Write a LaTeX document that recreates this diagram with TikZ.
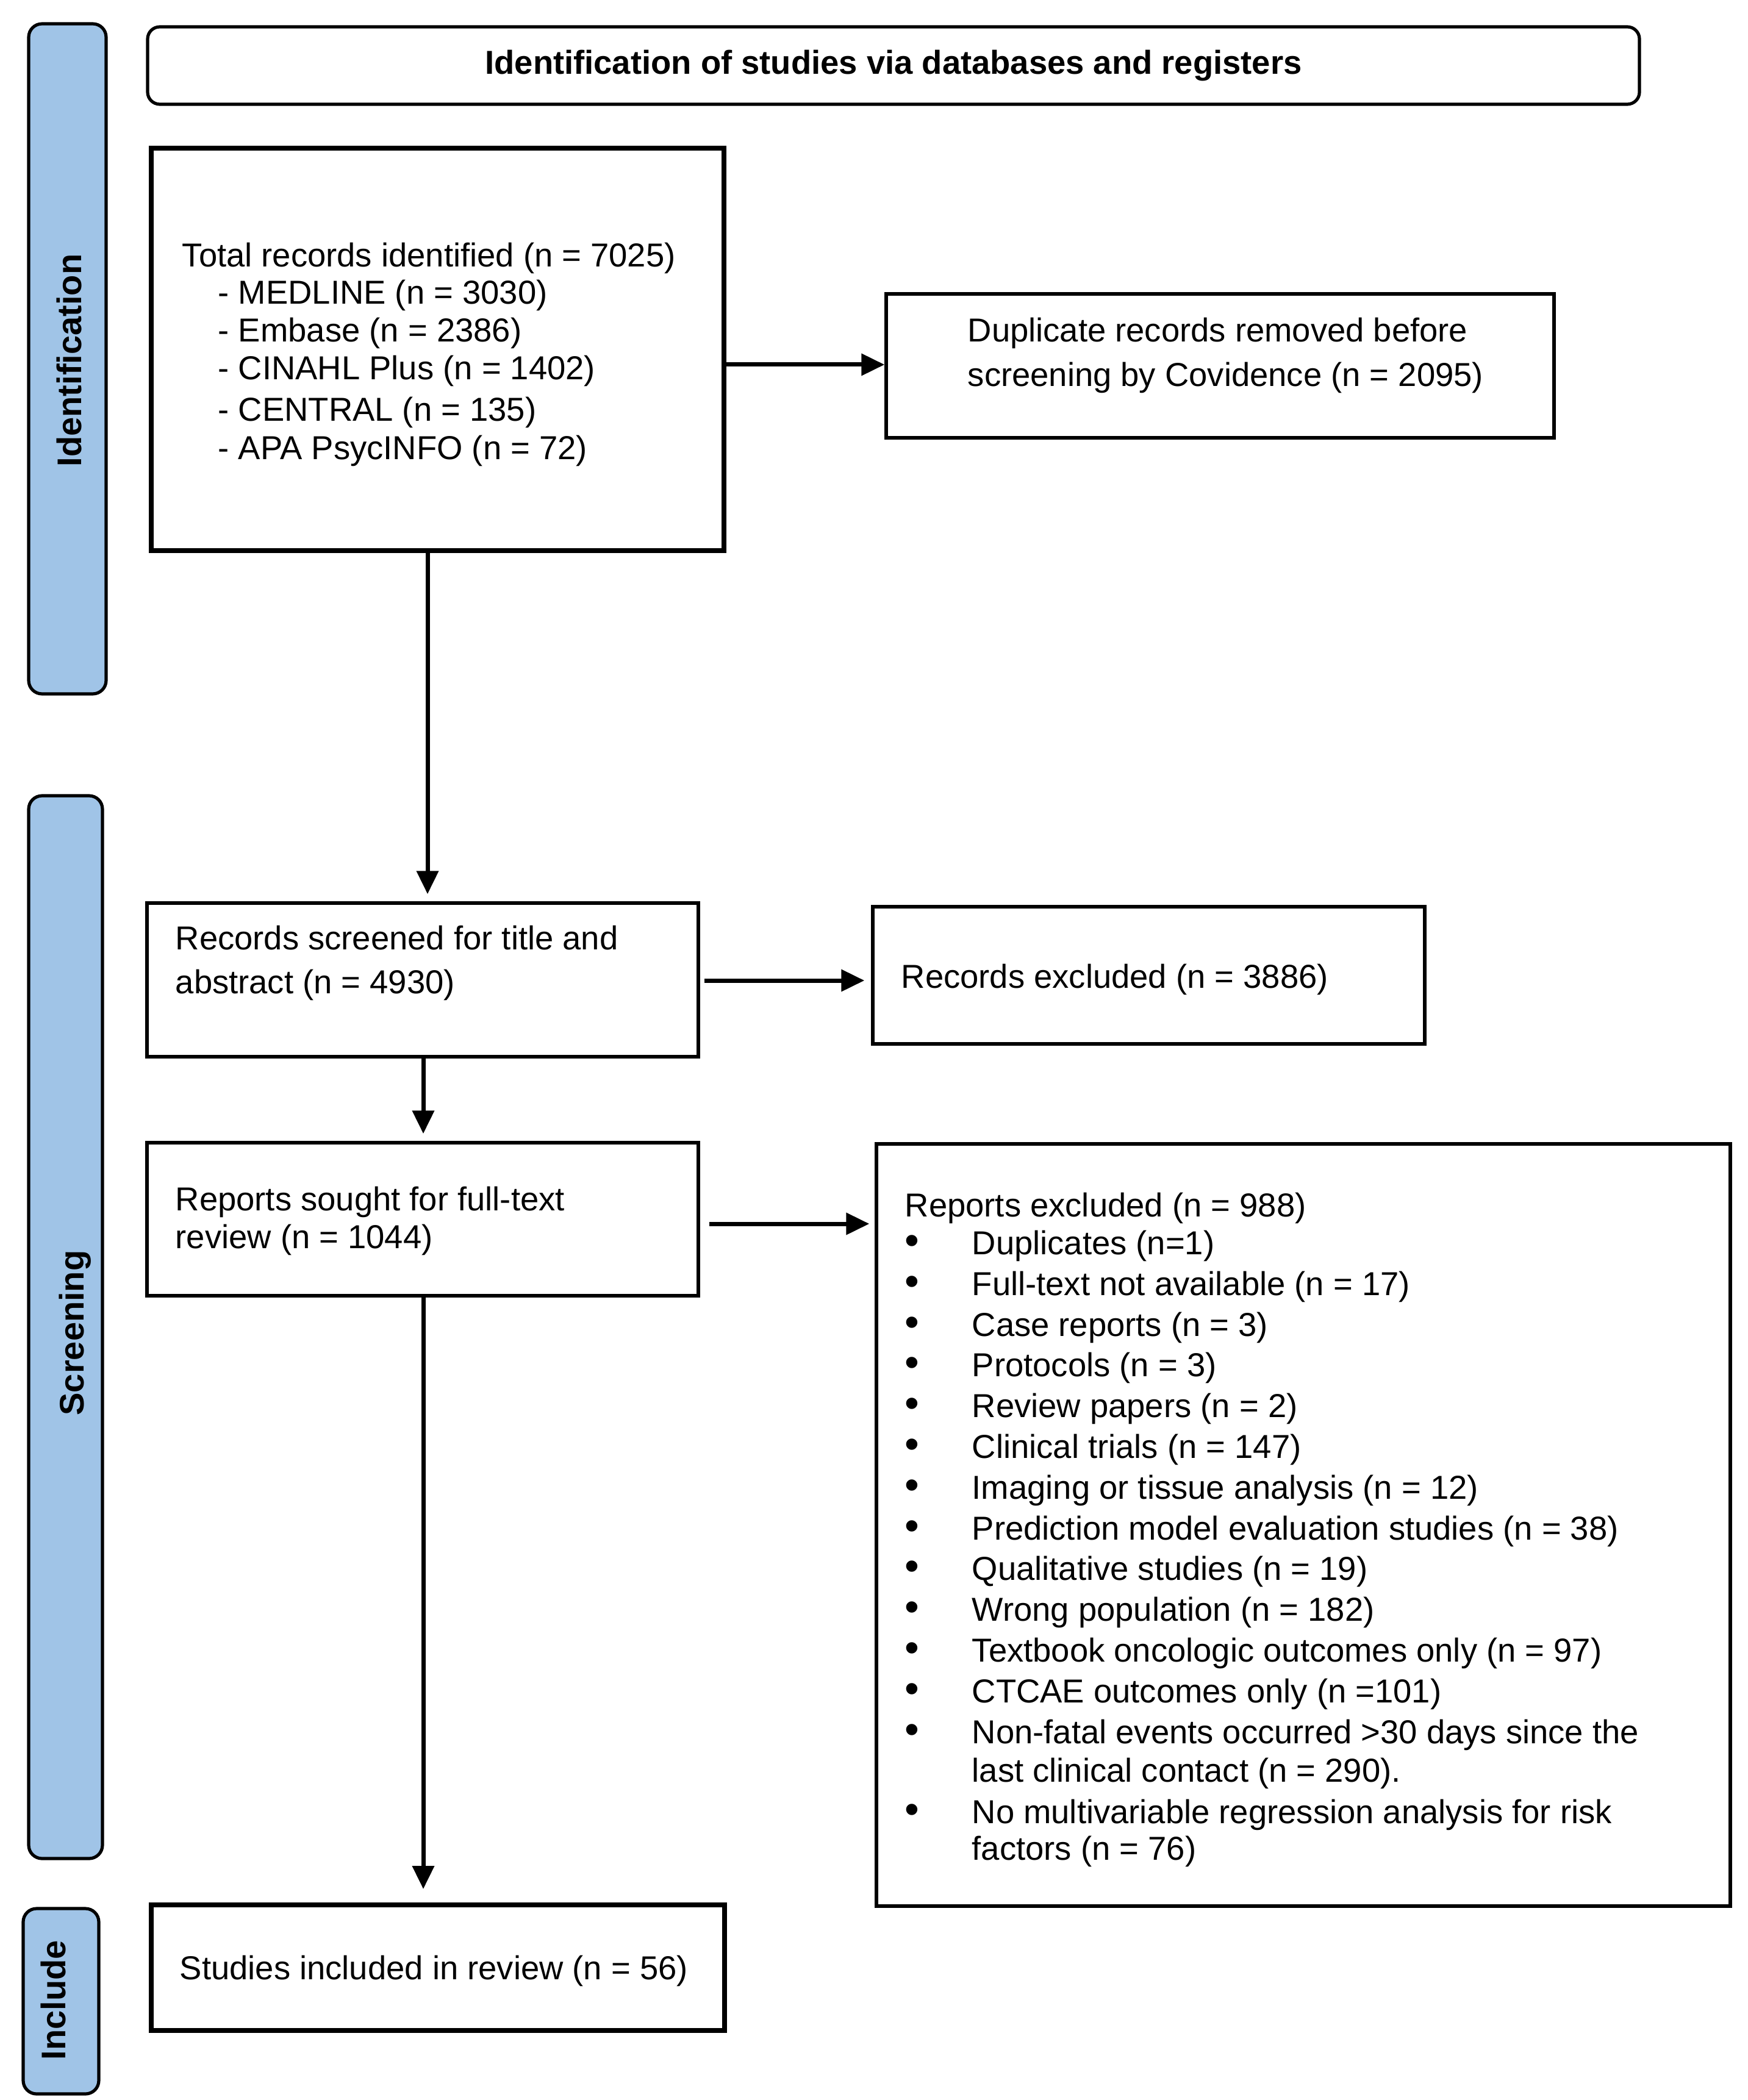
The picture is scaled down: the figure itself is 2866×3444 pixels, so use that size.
\documentclass[tikz,border=0pt]{standalone}
\usepackage{fontspec}
\setmainfont{Liberation Sans}
\usetikzlibrary{arrows.meta,fit}
\definecolor{laneblue}{RGB}{160,196,231}
\begin{document}
\begin{tikzpicture}[x=0.25pt,y=-0.25pt,
  box/.style={draw=black, line width=1.35pt, inner sep=0pt},
  thickbox/.style={box, line width=2pt},
  titlebox/.style={box, line width=1.3pt, rounded corners=5pt},
  lane/.style={draw=black, line width=1.3pt, fill=laneblue, rounded corners=5.5pt, inner sep=0pt},
  lanelabel/.style={rotate=90, anchor=base, inner sep=0pt, font=\fontsize{14}{16}\selectfont\bfseries},
  txt/.style={anchor=base west, inner sep=0pt, font=\fontsize{13.6}{16}\selectfont},
  bul/.style={anchor=base, inner sep=0pt, font=\fontsize{17}{16}\selectfont},
  arr/.style={line width=1.75pt, -{Triangle[length=9.5pt,width=8.75pt]}},
]
\useasboundingbox[fill=white] (0,0) rectangle (2866,3444);

% lanes
\node[lane, fit={(47,39) (174,1138)}] (laneI) {};
\node[lane, fit={(47,1305) (168,3048)}] (laneS) {};
\node[lane, fit={(38,3130) (162,3434)}] (laneC) {};
\node[lanelabel] (laneIt) at (133,591) {Identification};
\node[lanelabel] (laneSt) at (137,2186) {Screening};
\node[lanelabel] (laneCt) at (108,3280) {Include};

% title
\node[titlebox, fit={(242,44) (2688,171)}] (title) {};
\node[inner sep=0pt, font=\fontsize{13.6}{16}\selectfont\bfseries] (titlet) at (title.center) {Identification of studies via databases and registers};

% boxes
\node[thickbox, fit={(248,243) (1187,903)}] (total) {};
\node[box, fit={(1453,482) (2548,718)}] (dup) {};
\node[box, fit={(241,1481) (1145,1733)}] (screened) {};
\node[box, fit={(1431,1487) (2336,1712)}] (excl) {};
\node[box, fit={(241,1874) (1145,2125)}] (sought) {};
\node[box, fit={(1437,1876) (2837,3126)}] (repex) {};
\node[thickbox, fit={(248,3124) (1188,3330)}] (included) {};

% texts: total
\node[txt] (t1) at (298,438) {Total records identified (n = 7025)};
\node[txt] (t2) at (357,499) {- MEDLINE (n = 3030)};
\node[txt] (t3) at (357,561) {- Embase (n = 2386)};
\node[txt] (t4) at (357,623) {- CINAHL Plus (n = 1402)};
\node[txt] (t5) at (357,690) {- CENTRAL (n = 135)};
\node[txt] (t6) at (357,753) {- APA PsycINFO (n = 72)};

% duplicate
\node[txt] (d1) at (1586,561) {Duplicate records removed before};
\node[txt] (d2) at (1586,634) {screening by Covidence (n = 2095)};

% screened
\node[txt] (s1) at (287,1557) {Records screened for title and};
\node[txt] (s2) at (287,1629) {abstract (n = 4930)};

% excluded
\node[txt] (e1) at (1477,1620) {Records excluded (n = 3886)};

% sought
\node[txt] (f1) at (287,1985) {Reports sought for full-text};
\node[txt] (f2) at (287,2047) {review (n = 1044)};

% included
\node[txt] (i1) at (294,3246) {Studies included in review (n = 56)};

% reports excluded
\node[txt] (r0) at (1483,1995) {Reports excluded (n = 988)};
\foreach \yy/\tt [count=\k] in {
  2057/{Duplicates (n=1)},
  2124/{Full-text not available (n = 17)},
  2191/{Case reports (n = 3)},
  2257/{Protocols (n = 3)},
  2324/{Review papers (n = 2)},
  2391/{Clinical trials (n = 147)},
  2458/{Imaging or tissue analysis (n = 12)},
  2525/{Prediction model evaluation studies (n = 38)},
  2591/{Qualitative studies (n = 19)},
  2658/{Wrong population (n = 182)},
  2725/{Textbook oncologic outcomes only (n = 97)},
  2792/{CTCAE outcomes only (n =101)},
  2859/{Non-fatal events occurred >30 days since the},
  2990/{No multivariable regression analysis for risk}}
{
  \node[bul] (b\k) at (1495,\yy) {•};
  \node[txt] (r\k) at (1593,\yy) {\tt};
}
\node[txt] (r13b) at (1593,2922) {last clinical contact (n = 290).};
\node[txt] (r14b) at (1593,3050) {factors (n = 76)};

% connectors
\coordinate (colA) at (701,0);
\coordinate (colB) at (694,0);
\coordinate (rowA) at (0,598);
\coordinate (rowB) at (0,1608);
\coordinate (rowC) at (0,2007);

\draw[arr] (total.east |- rowA) -- (dup.west |- rowA);
\draw[arr, shorten >=3pt] (total.south -| colA) -- (screened.north -| colA);
\draw[arr, shorten <=1.75pt, shorten >=2.75pt] (screened.east |- rowB) -- (excl.west |- rowB);
\draw[arr, shorten >=3pt] (screened.south -| colB) -- (sought.north -| colB);
\draw[arr, shorten <=3.75pt, shorten >=2.25pt] (sought.east |- rowC) -- (repex.west |- rowC);
\draw[arr, shorten >=5.5pt] (sought.south -| colB) -- (included.north -| colB);
\end{tikzpicture}
\end{document}
